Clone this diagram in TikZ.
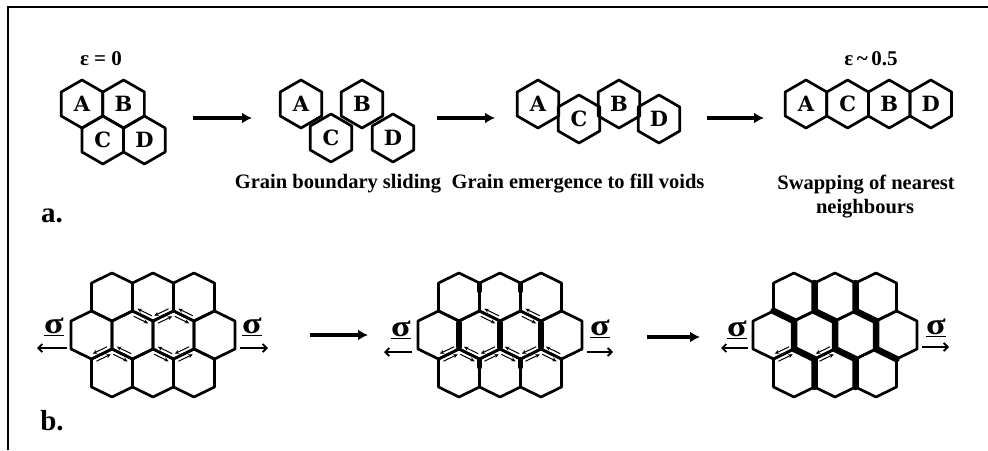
\documentclass[tikz,border=0pt]{standalone}
\usepackage{fontspec}
\setmainfont{Liberation Serif}
\newfontfamily\grainletters{DejaVu Serif}
\usetikzlibrary{shapes.geometric,arrows.meta,calc}

\tikzset{
  grain/.style={regular polygon, regular polygon sides=6, shape border rotate=30,
    minimum size=48pt, inner sep=0pt, draw, line width=2.7pt, line join=round,
    font=\grainletters\bfseries\fontsize{21}{21}\selectfont},
  hexline/.style={draw, line width=2.7pt, line join=round},
  boundary/.style={line width=6.5pt, line cap=round, line join=round},
  stagearrow/.style={line width=3.6pt, -{Latex[length=10pt,width=11pt]}},
  stressarrow/.style={line width=1.8pt, -{Straight Barb[length=4pt,width=8pt]}},
  shear/.style={line width=1pt, -{Stealth[length=4.5pt,width=4.2pt]}},
  caption/.style={font=\bfseries\fontsize{20.5}{22}\selectfont, anchor=base},
  strain/.style={font=\bfseries\fontsize{21}{22}\selectfont},
  stress/.style={font=\bfseries\fontsize{30}{30}\selectfont, inner sep=0pt},
  partlabel/.style={font=\bfseries\fontsize{29}{30}\selectfont, anchor=base}
}

% one grain of the honeycomb, centred at (#1,#2)
\newcommand\grainhex[2]{%
  \draw[hexline] (#1-20.5,#2-14) -- (#1,#2-24) -- (#1+20.5,#2-14) --
    (#1+20.5,#2+14) -- (#1,#2+24) -- (#1-20.5,#2+14) -- cycle;}

% ten-grain honeycomb shifted right by #1
\newcommand\honeycomb[1]{%
  \foreach \cx in {112,153,194} {\grainhex{\cx+#1}{297}\grainhex{\cx+#1}{373}}
  \foreach \cx in {91.5,132.5,173.5,214.5} {\grainhex{\cx+#1}{335}}}

% pair of opposite half-arrows marking sliding along the edge (#1,#2)-(#3,#4)
\newcommand\shearpair[4]{%
  \draw[shear] ($(#1,#2)!0.85!(#3,#4)!4.2pt!90:(#3,#4)$) -- ($(#1,#2)!0.15!(#3,#4)!4.2pt!90:(#3,#4)$);
  \draw[shear] ($(#1,#2)!0.15!(#3,#4)!4.2pt!-90:(#3,#4)$) -- ($(#1,#2)!0.85!(#3,#4)!4.2pt!-90:(#3,#4)$);}

% underlined stress symbol
\newcommand\stresssym{\scalebox{1.2}[1]{\underline{σ}}}

\begin{document}
\begin{tikzpicture}[x=1pt,y=-1pt]
\useasboundingbox (0,0) rectangle (988,450);
\fill[white] (0,0) rectangle (988,450);

% frame
\draw[line width=2.2pt] (8,450) -- (8,7) -- (988,7);

% ---------- a. grain switching of four grains ----------
\node[strain] (eps0) at (101,59) {ε = 0};
\node[strain] (eps5) at (871,59) {ε\,\textasciitilde\,0.5};

\node[grain] (a1A) at (82,104) {A};
\node[grain] (a1B) at (123.6,104) {B};
\node[grain] (a1C) at (102.8,140) {C};
\node[grain] (a1D) at (144.4,140) {D};

\node[grain] (a2A) at (301,104) {A};
\node[grain] (a2B) at (362,104) {B};
\node[grain] (a2C) at (331,138) {C};
\node[grain] (a2D) at (393,138) {D};

\node[grain] (a3A) at (538,104) {A};
\node[grain] (a3C) at (579,119) {C};
\node[grain] (a3B) at (619,104) {B};
\node[grain] (a3D) at (659,119) {D};

\node[grain] (a4A) at (806,104) {A};
\node[grain] (a4C) at (847.6,104) {C};
\node[grain] (a4B) at (889.2,104) {B};
\node[grain] (a4D) at (930.8,104) {D};

\coordinate (s1) at (193,118); \coordinate (e1) at (252,118);
\coordinate (s2) at (437,118); \coordinate (e2) at (495,118);
\coordinate (s3) at (707,118); \coordinate (e3) at (764,118);
\draw[stagearrow] (s1) -- (e1);
\draw[stagearrow] (s2) -- (e2);
\draw[stagearrow] (s3) -- (e3);

\node[caption] (capA) at (338,188) {Grain boundary sliding};
\node[caption] (capB) at (578,188) {Grain emergence to fill voids};
\node[caption] (capC) at (866,189) {Swapping of nearest};
\node[caption] (capD) at (865,213) {neighbours};
\node[partlabel] (lblA) at (52,222) {a.};

% ---------- b. honeycomb under tension ----------
\honeycomb{0}
\honeycomb{347}
\honeycomb{682}

% widened boundaries, middle stage
\draw[boundary] (459,323) -- (459,347);
\draw[boundary] (500,323) -- (500,347);
\draw[boundary] (541,323) -- (541,347);
\draw[line width=5pt, line cap=round] (479.5,284) -- (479.5,291);
\draw[line width=5pt, line cap=round] (520.5,284) -- (520.5,291);
\draw[line width=5pt, line cap=round] (479.5,360) -- (479.5,367);
\draw[line width=5pt, line cap=round] (520.5,360) -- (520.5,367);

% widened boundaries, final stage
\draw[boundary] (773.5,311) -- (794,321) -- (794,349) -- (814.5,359) -- (814.5,387);
\draw[boundary] (814.5,283) -- (814.5,311) -- (835,321) -- (835,349) -- (855.5,359) -- (855.5,387);
\draw[boundary] (855.5,283) -- (855.5,311) -- (876,321) -- (876,349) -- (896.5,359);

% sliding marks, first stage
\shearpair{132.5}{311}{153}{321}
\shearpair{153}{321}{173.5}{311}
\shearpair{173.5}{311}{194}{321}
\shearpair{91.5}{359}{112}{349}
\shearpair{112}{349}{132.5}{359}
\shearpair{153}{349}{173.5}{359}
\shearpair{173.5}{359}{194}{349}

% sliding marks, middle stage
\shearpair{479.5}{311}{500}{321}
\shearpair{520.5}{311}{541}{321}
\shearpair{438.5}{359}{459}{349}
\shearpair{459}{349}{479.5}{359}
\shearpair{479.5}{359}{500}{349}
\shearpair{500}{349}{520.5}{359}
\shearpair{520.5}{359}{541}{349}
\shearpair{541}{349}{561.5}{359}

% sliding marks, final stage
\shearpair{773.5}{359}{794}{349}
\shearpair{814.5}{359}{835}{349}

% applied stress
\node[stress] (sg1L) at (54,327) {\stresssym};
\node[stress] (sg1R) at (252,327) {\stresssym};
\node[stress] (sg2L) at (401,330) {\stresssym};
\node[stress] (sg2R) at (600,329) {\stresssym};
\node[stress] (sg3L) at (737,330) {\stresssym};
\node[stress] (sg3R) at (936,328) {\stresssym};

\coordinate (p1a) at (67,348);  \coordinate (p1b) at (37,348);
\coordinate (q1a) at (240,348); \coordinate (q1b) at (268,348);
\coordinate (p2a) at (412,352); \coordinate (p2b) at (384,352);
\coordinate (q2a) at (587,352); \coordinate (q2b) at (613,352);
\coordinate (p3a) at (748,348); \coordinate (p3b) at (721,348);
\coordinate (q3a) at (922,347); \coordinate (q3b) at (949,347);
\draw[stressarrow] (p1a) -- (p1b);
\draw[stressarrow] (q1a) -- (q1b);
\draw[stressarrow] (p2a) -- (p2b);
\draw[stressarrow] (q2a) -- (q2b);
\draw[stressarrow] (p3a) -- (p3b);
\draw[stressarrow] (q3a) -- (q3b);

\coordinate (t1) at (310,335); \coordinate (u1) at (368,335);
\coordinate (t2) at (647,337); \coordinate (u2) at (700,337);
\draw[stagearrow] (t1) -- (u1);
\draw[stagearrow] (t2) -- (u2);

\node[partlabel] (lblB) at (52,430) {b.};
\end{tikzpicture}
\end{document}
